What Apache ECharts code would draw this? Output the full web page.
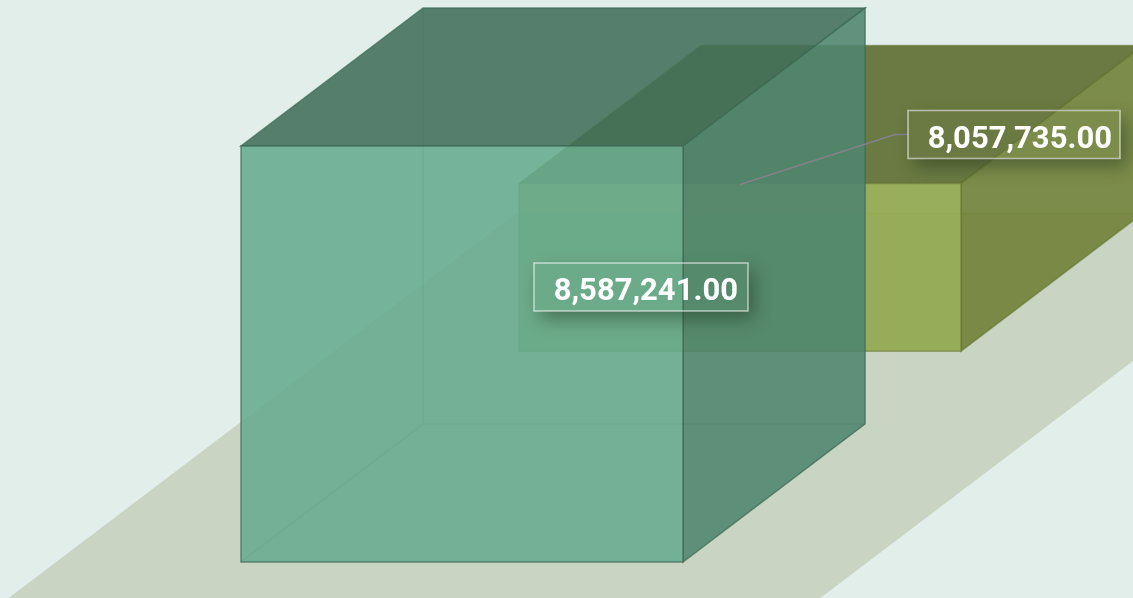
<!DOCTYPE html>
<html>
<head>
<meta charset="utf-8">
<style>
    html, body { margin: 0; padding: 0; background: #e2eeea; }
    #chart { width: 1133px; height: 598px; }
</style>
<script src="https://cdn.jsdelivr.net/npm/echarts@6/dist/echarts.min.js"></script>
</head>
<body>
<div id="chart"></div>
<script>
const categories = ['Front', 'Back'];
const values = [8587241, 8057735];
const axisMin = 7700000;
const axisMax = 8600000;

// box colours, same order as categories
const frontColors = ['rgba(103,171,143,0.88)', 'rgba(147,168,80,0.92)'];
const topColors = ['rgba(65,111,90,0.88)', 'rgba(97,112,51,0.92)'];
const sideColors = ['rgba(77,133,110,0.88)', 'rgba(115,131,60,0.92)'];
const edgeColors = ['rgba(60,105,85,0.7)', 'rgba(95,112,45,0.5)'];
const hiddenEdgeColors = ['rgba(60,105,85,0.3)', 'rgba(95,112,45,0.35)'];

const slope = 138 / 182; // the fake 3d depth direction
const depthRatio = 0.655;
const widthRatio = 1.59;

function frame(api, idx, v) {
    let bw = api.size([1, 0])[0];
    let lift = idx * bw * slope;
    let cx = api.coord([idx, v])[0];
    let w = bw * widthRatio;
    return {
        left: cx - w / 2,
        right: cx + w / 2,
        cx: cx,
        bottom: api.coord([idx, axisMin])[1] - lift,
        top: api.coord([idx, v])[1] - lift,
        dx: bw * depthRatio,
        dy: bw * depthRatio * slope,
        bw: bw
    };
}

function renderFloor(params, api) {
    let f = frame(api, 0, axisMin);
    let half = f.bw * 1.46;
    let below = 60;
    let backY = f.bottom - f.bw * slope - f.dy;
    let run = f.bottom + below - backY;
    let shift = run / slope;
    let x0 = f.cx - half - below / slope;
    let x1 = f.cx + half - below / slope;
    return {
        type: 'polygon',
        shape: { points: [[x0, f.bottom + below], [x1, f.bottom + below], [x1 + shift, backY], [x0 + shift, backY]] },
        style: { fill: '#c9d5c2' }
    };
}

function renderBox(params, api) {
    let idx = api.value(0);
    let f = frame(api, idx, api.value(1));
    let edge = { stroke: edgeColors[idx], lineWidth: 1.5 };
    let b = f.left + f.dx, r = f.right + f.dx, u = f.top - f.dy, d = f.bottom - f.dy;
    let face = (points, fill) => ({
        type: 'polygon',
        shape: { points: points },
        style: Object.assign({ fill: fill }, edge)
    });
    return {
        type: 'group',
        children: [
            {
                type: 'polyline',
                shape: { points: [[b, u], [b, d], [r, d]] },
                style: { stroke: hiddenEdgeColors[idx], lineWidth: 1.5, fill: null }
            },
            {
                type: 'line',
                shape: { x1: b, y1: d, x2: f.left, y2: f.bottom },
                style: { stroke: hiddenEdgeColors[idx], lineWidth: 1.5 }
            },
            face([[f.left, f.top], [f.right, f.top], [r, u], [b, u]], topColors[idx]),
            face([[f.right, f.top], [r, u], [r, d], [f.right, f.bottom]], sideColors[idx]),
            face([[f.left, f.top], [f.right, f.top], [f.right, f.bottom], [f.left, f.bottom]], frontColors[idx])
        ]
    };
}

function renderLabel(params, api) {
    let idx = api.value(0);
    let v = api.value(1);
    let f = frame(api, idx, v);
    let ax = f.cx, ay = f.top;
    let x = idx === 0 ? ax + 72 : ax + 168;
    let y = idx === 0 ? ay + 117 : ay - 73;
    let w = idx === 0 ? 214 : 212;
    let h = 48;
    let m = 40;
    let children = [];
    if (idx === 1) {
        children.push({
            type: 'polyline',
            shape: { points: [[ax, ay + 1], [x - 13, y + 24], [x, y + 24]] },
            style: { stroke: '#84808a', lineWidth: 1.5, fill: null }
        });
    }
    children.push({
        // shadow only, the inside of the box stays clear
        type: 'rect',
        shape: { x: x, y: y, width: w, height: h },
        style: { fill: '#000', shadowColor: 'rgba(20,40,20,0.42)', shadowBlur: 17, shadowOffsetX: 6, shadowOffsetY: 8 },
        clipPath: {
            type: 'polygon',
            shape: {
                points: [[x - m, y - m], [x + w + m, y - m], [x + w + m, y + h + m], [x - m, y + h + m], [x - m, y],
                    [x, y], [x, y + h], [x + w, y + h], [x + w, y], [x - m, y]]
            }
        }
    });
    children.push({
        type: 'rect',
        shape: { x: x, y: y, width: w, height: h },
        style: { fill: null, stroke: 'rgba(255,255,255,0.6)', lineWidth: 1.5 }
    });
    children.push({
        type: 'text',
        style: {
            x: x + w - (idx === 0 ? 10 : 8),
            y: y + h / 2 + (idx === 0 ? 5 : 6),
            text: v.toLocaleString('en-US', { minimumFractionDigits: 2, maximumFractionDigits: 2 }),
            fill: '#fff',
            font: '700 31px Roboto',
            align: 'right',
            verticalAlign: 'middle'
        }
    });
    return { type: 'group', children: children };
}

let rows = categories.map((c, i) => [i, values[i]]);
let chart = echarts.init(document.getElementById('chart'));

let option = {
    backgroundColor: '#e2eeea',
    animation: false,
    grid: { left: 323, width: 556, top: 140, height: 422 },
    xAxis: { type: 'category', data: categories, show: false },
    yAxis: { type: 'value', min: axisMin, max: axisMax, show: false },
    series: [
        { type: 'custom', renderItem: renderFloor, data: [[0, axisMin]], encode: { x: 0, y: 1 }, clip: false, silent: true },
        { type: 'custom', renderItem: renderBox, data: [rows[1]], encode: { x: 0, y: 1 }, clip: false },
        { type: 'custom', renderItem: renderBox, data: [rows[0]], encode: { x: 0, y: 1 }, clip: false },
        { type: 'custom', renderItem: renderLabel, data: rows, encode: { x: 0, y: 1 }, clip: false }
    ]
};

chart.setOption(option);
</script>
</body>
</html>
